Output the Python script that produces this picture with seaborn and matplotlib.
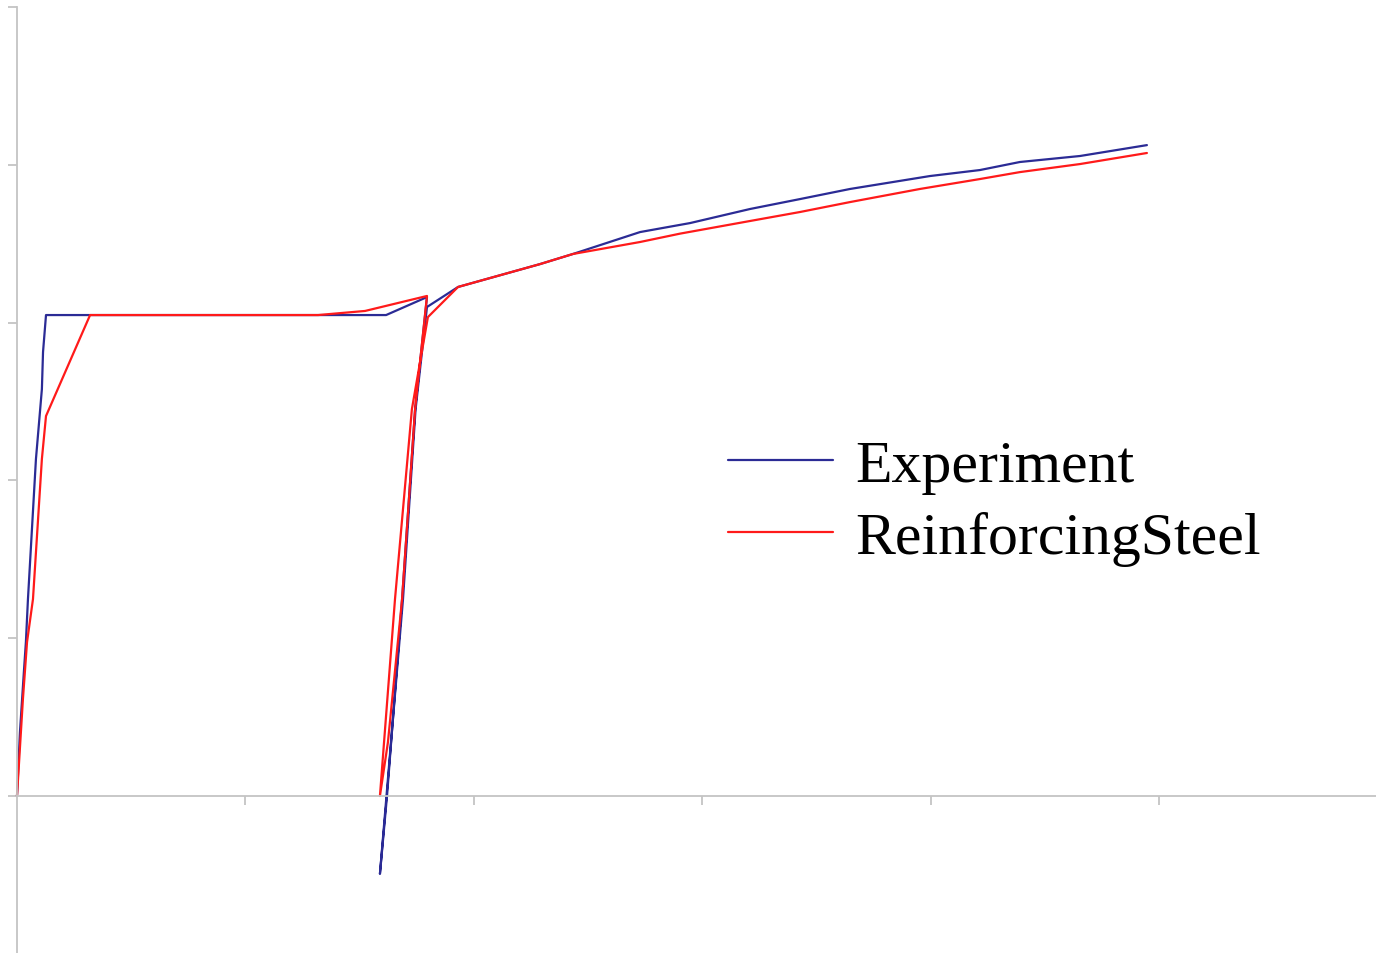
import numpy as np
import pandas as pd
import seaborn as sns
import matplotlib.pyplot as plt

# Experiment curve (strain, stress)
exp_strain = [0, 0.013, 0.031, 0.039, 0.048, 0.083, 0.109, 0.114, 0.127,
              1.616, 1.795,
              1.743, 1.686, 1.620, 1.589,
              1.624, 1.690, 1.745, 1.795, 1.931,
              2.290, 2.434, 2.728, 2.947, 3.209, 3.428, 3.647, 3.997,
              4.216, 4.391, 4.654, 4.947]
exp_stress = [0, 40.6, 80.5, 97.6, 124.8, 213.6, 257.9, 281.4, 304.8,
              304.8, 316.2,
              245.2, 124.8, 0, -49.4,
              10.8, 124.8, 245.0, 309.9, 322.6,
              337.1, 343.5, 357.4, 363.1, 372.0, 378.3, 384.7, 392.9,
              396.7, 401.8, 405.6, 412.5]

# ReinforcingSteel model curve
rs_strain = [0, 0.026, 0.044, 0.070, 0.109, 0.127, 0.320,
             1.318, 1.524, 1.795,
             1.743, 1.686, 1.624, 1.589,
             1.655, 1.729, 1.799, 1.931,
             2.290, 2.434, 2.728, 2.903, 3.209, 3.428, 3.647, 3.953,
             4.216, 4.391, 4.654, 4.947]
rs_stress = [0, 61.5, 97.6, 124.8, 213.6, 240.8, 304.8,
             304.8, 307.4, 316.9,
             245.2, 124.8, 34.0, 0,
             124.8, 245.2, 303.5, 322.6,
             337.1, 343.5, 351.1, 356.4, 364.4, 370.1, 376.4, 384.7,
             391.0, 395.4, 400.5, 407.5]

y_ticks = [0, 100, 200, 300, 400, 500]
x_ticks = [1, 2, 3, 4, 5]

df = pd.concat([
    pd.DataFrame({'strain': exp_strain, 'stress': exp_stress, 'model': 'Experiment'}),
    pd.DataFrame({'strain': rs_strain, 'stress': rs_stress, 'model': 'ReinforcingSteel'}),
], ignore_index=True)

sns.set_style('white')
plt.rcParams['font.family'] = ['Liberation Serif', 'DejaVu Serif']

fig = plt.figure(figsize=(13.76, 9.54), dpi=100)
ax = fig.add_axes([0, 0, 1, 1])

sns.lineplot(data=df, x='strain', y='stress', hue='model', sort=False,
             estimator=None, palette={'Experiment': '#2b2b95', 'ReinforcingSteel': '#ff1a1a'},
             linewidth=1.6, ax=ax)

ax.set_xlim(-0.0744, 5.95)
ax.set_ylim(-99.5, 505.1)

# axes crossing at the origin, Excel style
for side in ['top', 'right']:
    ax.spines[side].set_visible(False)
ax.spines['left'].set_position(('data', 0))
ax.spines['bottom'].set_position(('data', 0))
ax.spines['left'].set_bounds(-99.5, 500)
ax.spines['bottom'].set_bounds(0, 5.95)
for side in ['left', 'bottom']:
    ax.spines[side].set_color('#c4c4c4')
    ax.spines[side].set_linewidth(1.3)

ax.set_xticks(x_ticks)
ax.set_yticks(y_ticks)
ax.tick_params(axis='both', direction='out', length=6.5, width=1.3,
               color='#c4c4c4', labelleft=False, labelbottom=False,
               left=True, bottom=True)
ax.set_xlabel('')
ax.set_ylabel('')

handles, labels = ax.get_legend_handles_labels()
ax.legend(handles, labels, loc='upper left', bbox_to_anchor=(0.529, 0.5386),
          bbox_transform=fig.transFigure, frameon=False, fontsize=43,
          handlelength=1.76, handletextpad=0.37, labelspacing=0.28,
          borderpad=0, borderaxespad=0, labelcolor='black')

fig.savefig('out.png', dpi=100)
